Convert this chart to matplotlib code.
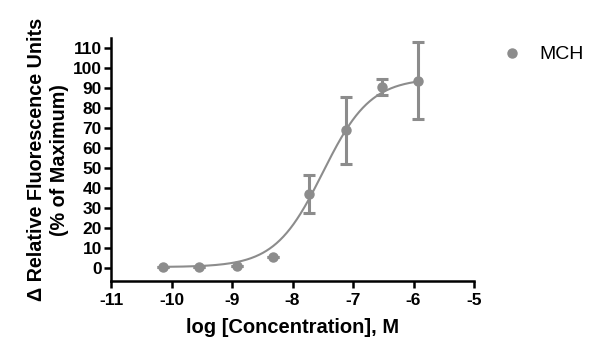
import matplotlib.pyplot as plt
from matplotlib.lines import Line2D
import numpy as np

plt.rcParams['font.family'] = ['Liberation Sans', 'DejaVu Sans']
plt.rcParams['axes.unicode_minus'] = False

# measured points (log M) and response (% of max)
log_conc = [-10.14, -9.54, -8.92, -8.32, -7.72, -7.12, -6.52, -5.92]
response = [0.5, 0.7, 1.0, 5.5, 37.0, 69.0, 90.5, 93.5]
err_up = [0, 0, 0, 0, 9.5, 16.5, 4.0, 19.5]
err_down = [0, 0, 0, 0, 9.5, 17.0, 4.0, 19.0]

# 4-parameter logistic fit
fit_bottom = 0.5
fit_top = 95.0
fit_logec50 = -7.5
fit_hill = 1.1

color = '#8c8c8c'

fig = plt.figure(figsize=(6, 3.59), dpi=100)
ax = fig.add_axes([0.185, 0.217, 0.605, 0.677])

xs = np.linspace(log_conc[0], log_conc[-1], 300)
ys = fit_bottom + (fit_top - fit_bottom) / (1 + 10 ** ((fit_logec50 - xs) * fit_hill))
ax.plot(xs, ys, color=color, lw=1.5)

ax.errorbar(log_conc, response, yerr=[err_down, err_up], fmt='o', color=color,
            ms=6.5, elinewidth=2.2, capsize=4.5, capthick=2.2)

ax.set_xlim(-11, -5)
ax.set_ylim(-6.5, 115)
ax.set_xticks(range(-11, -4))
ax.set_yticks(range(0, 111, 10))

for s in ['top', 'right']:
    ax.spines[s].set_visible(False)
for s in ['left', 'bottom']:
    ax.spines[s].set_linewidth(1.8)
ax.tick_params(direction='out', length=5, width=1.8, labelsize=12.5, pad=1.5)
ax.tick_params(axis='x', pad=3.5)
for lbl in ax.get_xticklabels() + ax.get_yticklabels():
    lbl.set_fontweight('bold')

ax.set_xlabel('log [Concentration], M', fontsize=14.5, fontweight='bold', labelpad=7)
ax.set_ylabel('Δ Relative Fluorescence Units\n(% of Maximum)', fontsize=14.2,
              fontweight='bold', labelpad=3, linespacing=1.25)

handle = Line2D([], [], marker='o', ls='none', color=color, ms=6.5)
ax.legend([handle], ['MCH'], loc='upper left', bbox_to_anchor=(1.004, 1.04),
          frameon=False, fontsize=14, handletextpad=0.4)

plt.savefig('out.png', dpi=100)
